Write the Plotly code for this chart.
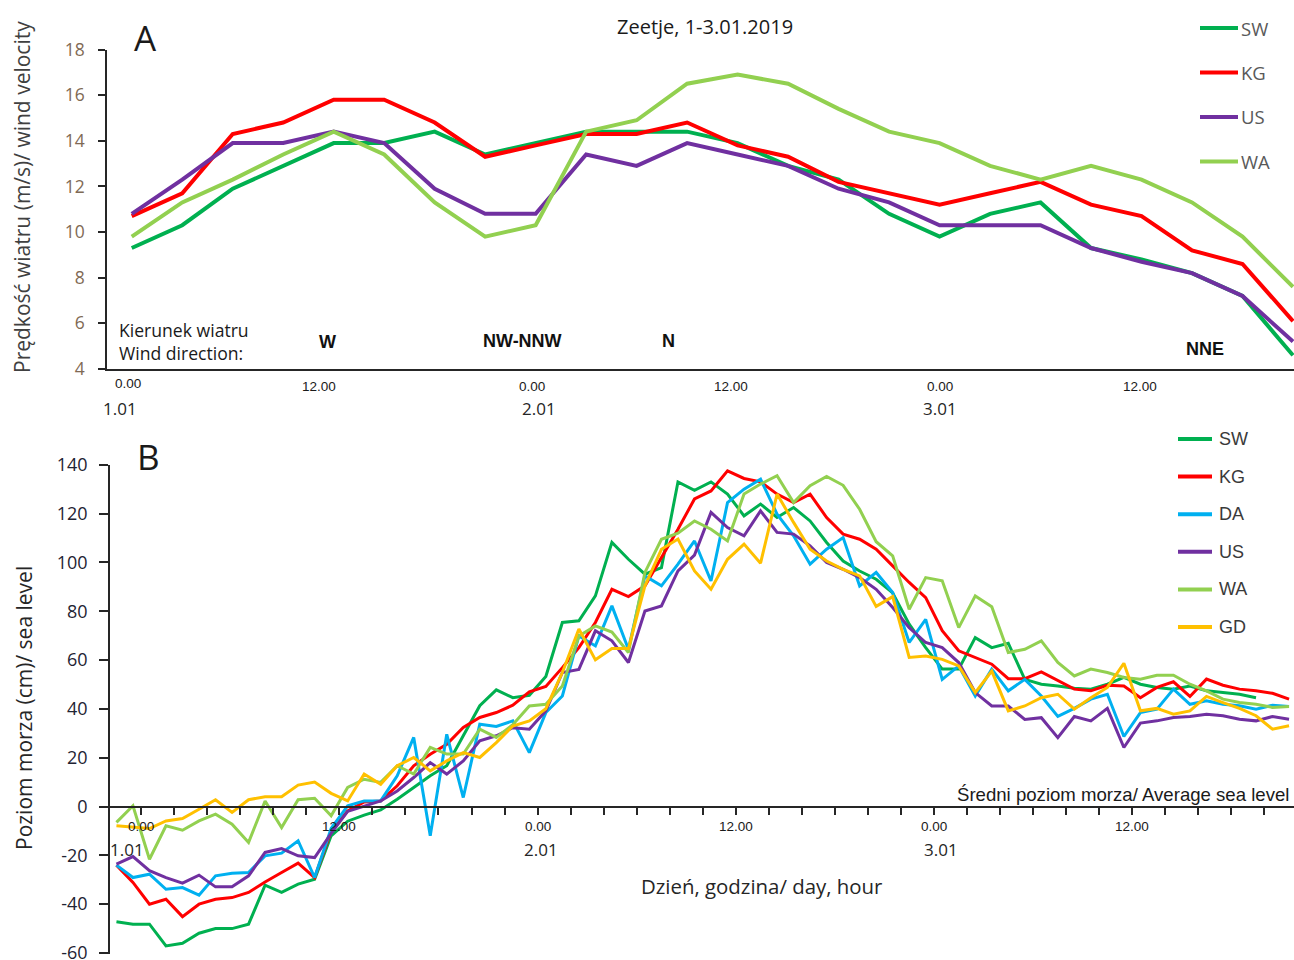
import plotly.graph_objects as go

W, H = 1294, 960

# ---------------- Panel A: wind speed (3-hourly) ----------------
hours_a = [0, 3, 6, 9, 12, 15, 18, 21, 24, 27, 30, 33, 36, 39, 42, 45, 48, 51, 54, 57, 60, 63, 66, 69]
wind_sw = [9.3, 10.3, 11.9, 12.9, 13.9, 13.9, 14.4, 13.4, 13.9, 14.4, 14.4, 14.4,
           13.9, 12.9, 12.3, 10.8, 9.8, 10.8, 11.3, 9.3, 8.8, 8.2, 7.2, 4.6]
wind_kg = [10.7, 11.7, 14.3, 14.8, 15.8, 15.8, 14.8, 13.3, 13.8, 14.3, 14.3, 14.8,
           13.8, 13.3, 12.2, 11.7, 11.2, 11.7, 12.2, 11.2, 10.7, 9.2, 8.6, 6.1]
wind_us = [10.8, 12.3, 13.9, 13.9, 14.4, 13.9, 11.9, 10.8, 10.8, 13.4, 12.9, 13.9,
           13.4, 12.9, 11.9, 11.3, 10.3, 10.3, 10.3, 9.3, 8.7, 8.2, 7.2, 5.2]
wind_wa = [9.8, 11.3, 12.3, 13.4, 14.4, 13.4, 11.3, 9.8, 10.3, 14.4, 14.9, 16.5,
           16.9, 16.5, 15.4, 14.4, 13.9, 12.9, 12.3, 12.9, 12.3, 11.3, 9.8, 7.6]
wind_ticks = [4, 6, 8, 10, 12, 14, 16, 18]

wind_directions = ["W", "NW-NNW", "N", "NNE"]

# ---------------- Panel B: sea level (hourly) ----------------
hour_index = list(range(72))
sea_sw = [-47.2, -48.2, -48.2, -57.1, -56.0, -51.9, -50.0, -50.0, -48.2, -32.2, -35.2, -31.8, -29.8,
          -12.0, -6.0, -3.5, -1.4, 3.0, 7.8, 12.6, 16.7, 29.0, 41.3, 47.8, 44.6,
          45.6, 53.3, 75.4, 76.1, 86.3, 108.2, 101.3, 95.2, 97.9, 133.0, 129.5,
          133.0, 128.0, 119.1, 123.9, 118.4, 122.5, 117.0, 108.2, 100.6, 96.5, 93.1, 87.5,
          74.7, 65.1, 56.3, 56.3, 69.2, 65.1, 66.9, 52.1, 50.1, 49.4, 48.5, 48.1,
          50.1, 52.9, 50.1, 48.8, 48.1, 49.4, 47.4, 46.7, 46.0, 44.6]
sea_kg = [-24.0, -31.1, -40.0, -38.0, -45.1, -40.0, -38.0, -37.3, -35.2, -30.9, -27.0, -23.2, -29.1,
          -10.0, -1.8, 1.9, 2.3, 8.5, 16.7, 21.4, 25.5, 32.4, 36.5, 38.5, 41.5,
          47.0, 49.2, 56.9, 65.1, 75.4, 89.0, 86.0, 90.4, 102.0, 113.6, 126.0,
          129.3, 137.5, 134.4, 133.0, 128.0, 124.5, 128.0, 118.4, 111.6, 109.5, 105.4, 98.6,
          91.8, 85.6, 72.0, 63.8, 61.1, 58.3, 52.4, 52.4, 55.2, 51.5, 48.1, 47.4,
          49.7, 49.4, 44.6, 48.8, 51.1, 45.1, 52.2, 49.7, 48.1, 47.4, 46.4, 44.0]
sea_da = [-24.0, -29.1, -27.7, -33.9, -33.2, -36.3, -28.4, -27.3, -27.0, -20.2, -19.1, -14.0, -29.1,
          -9.0, 0.3, 2.3, 2.3, 12.6, 28.3, -12.0, 29.6, 3.7, 33.7, 32.8, 35.1,
          22.1, 38.5, 45.3, 69.9, 65.8, 82.2, 64.4, 94.5, 90.4, 99.3, 108.8,
          92.4, 124.5, 130.0, 134.1, 119.8, 110.9, 99.3, 105.4, 110.2, 90.4, 95.9, 87.7,
          67.2, 76.7, 52.1, 57.6, 45.3, 56.3, 47.4, 52.1, 45.3, 36.9, 40.2, 44.0,
          46.0, 28.7, 38.5, 39.9, 48.1, 41.9, 43.3, 41.9, 41.3, 39.9, 41.5, 41.0]
sea_us = [-23.6, -20.5, -26.3, -29.1, -31.4, -28.1, -32.9, -32.9, -28.4, -18.8, -17.2, -20.2, -20.9,
          -11.0, -2.0, 0.3, 2.3, 6.4, 11.9, 18.0, 13.3, 18.7, 26.9, 29.0, 32.3,
          31.7, 39.2, 54.9, 56.2, 72.0, 67.9, 59.0, 80.1, 82.2, 96.5, 103.0,
          120.5, 114.3, 110.9, 121.1, 112.3, 111.6, 106.8, 100.0, 97.2, 93.8, 89.0, 81.5,
          73.3, 67.2, 65.1, 59.0, 46.7, 41.2, 41.2, 35.7, 36.4, 28.2, 36.9, 35.1,
          40.2, 24.2, 34.2, 35.1, 36.5, 36.9, 37.8, 37.2, 35.8, 35.1, 36.9, 35.8]
sea_wa = [-6.5, 0.3, -21.6, -7.9, -9.7, -5.9, -3.1, -7.2, -14.7, 2.3, -8.6, 2.8, 3.4,
          -3.8, 7.8, 11.2, 9.9, 16.7, 13.3, 24.2, 21.5, 21.5, 31.7, 28.3, 33.5,
          41.2, 41.9, 49.4, 69.9, 74.0, 71.5, 63.1, 95.9, 109.5, 112.0, 117.0,
          113.6, 108.8, 128.0, 132.1, 135.5, 124.5, 131.4, 135.2, 131.6, 121.8, 108.5, 102.7,
          80.8, 93.8, 92.5, 73.3, 86.3, 81.9, 63.1, 64.4, 67.9, 59.0, 53.5, 56.3,
          54.9, 52.9, 52.2, 53.8, 53.8, 50.1, 47.4, 44.0, 42.6, 41.9, 40.6, 41.0]
sea_gd = [-7.9, -8.5, -9.0, -5.9, -4.9, -1.1, 2.8, -2.4, 2.8, 4.0, 4.0, 8.8, 10.0,
          5.4, 2.3, 13.3, 9.1, 16.7, 20.1, 14.6, 18.7, 22.1, 20.1, 26.2, 33.0,
          35.1, 40.1, 54.9, 72.7, 60.1, 64.7, 64.7, 90.4, 105.4, 109.6, 96.5,
          89.0, 101.3, 107.5, 99.7, 128.0, 116.4, 105.4, 100.6, 97.2, 94.5, 82.0, 86.0,
          61.1, 61.7, 60.3, 57.6, 46.7, 55.5, 39.2, 41.2, 44.6, 46.0, 39.9, 44.6,
          48.8, 58.7, 39.2, 40.2, 37.8, 39.2, 45.1, 42.6, 40.2, 37.2, 31.7, 33.1]
sea_ticks = [-60, -40, -20, 0, 20, 40, 60, 80, 100, 120, 140]

time_labels = ["0.00", "12.00", "0.00", "12.00", "0.00", "12.00"]
day_labels = ["1.01", "2.01", "3.01"]

COLORS = {"SW": "#00B050", "KG": "#FF0000", "DA": "#00B0F0",
          "US": "#7030A0", "WA": "#92D050", "GD": "#FFC000"}

AXIS = "#262626"
CAL = "Open Sans"
ARIAL = "Liberation Sans"


def px(xp):
    return xp / W


def py(yp):
    return 1 - yp / H


fig = go.Figure()

wind_series = [("SW", wind_sw), ("KG", wind_kg), ("US", wind_us), ("WA", wind_wa)]
for name, vals in wind_series:
    fig.add_trace(go.Scatter(x=hours_a, y=vals, mode="lines", name=name,
                             line=dict(color=COLORS[name], width=4),
                             xaxis="x", yaxis="y", showlegend=False,
                             hoverinfo="skip"))

sea_series = [("SW", sea_sw), ("KG", sea_kg), ("DA", sea_da),
              ("US", sea_us), ("WA", sea_wa), ("GD", sea_gd)]
for name, vals in sea_series:
    fig.add_trace(go.Scatter(x=hour_index[:len(vals)], y=vals, mode="lines", name=name,
                             line=dict(color=COLORS[name], width=3),
                             xaxis="x2", yaxis="y2", showlegend=False,
                             hoverinfo="skip"))

annotations = []
shapes = []


def text(x, y, s, size, family=CAL, color="#1a1a1a", xanchor="center",
         yanchor="middle", xref="paper", yref="paper", angle=0):
    annotations.append(dict(x=x, y=y, text=s, showarrow=False, xref=xref, yref=yref,
                            xanchor=xanchor, yanchor=yanchor, textangle=angle,
                            font=dict(family=family, size=size, color=color)))


# ---- Panel A texts
text(px(145), py(38), "A", 35)
text(px(705), py(27), "Zeetje, 1-3.01.2019", 20)
text(px(22), py(197), "Prędkość wiatru (m/s)/ wind velocity", 21,
     color="#404040", angle=-90)
text(px(117), py(330), "Kierunek wiatru", 17.6, xanchor="left")
text(px(117), py(353), "Wind direction:", 17.6, xanchor="left")
for label, xp, yp in zip(wind_directions, [327, 522, 668, 1205], [342, 341, 341, 349]):
    text(px(xp), py(yp), "<b>" + label + "</b>", 18, family=ARIAL, color="#111111")

label_hours_a = [-0.25, 11.1, 23.8, 35.6, 48.0, 59.9]
label_y_a = [383, 387, 387, 387, 387, 387]
for lab, h, yp in zip(time_labels, label_hours_a, label_y_a):
    text(h, py(yp), lab, 13.5, family=ARIAL, xref="x")
for lab, h in zip(day_labels, [-0.7, 24.2, 48.0]):
    text(h, py(408), lab, 17, xref="x", color="#262626")

# legend A
for k, name in enumerate(["SW", "KG", "US", "WA"]):
    yp = 28 + 44.5 * k
    shapes.append(dict(type="line", xref="paper", yref="paper",
                       x0=px(1200), x1=px(1238), y0=py(yp), y1=py(yp),
                       line=dict(color=COLORS[name], width=4)))
    text(px(1239), py(yp), name, 18.5, color="#595959", xanchor="left")

# ---- Panel B texts
text(px(148), py(456), "B", 35)
text(px(24), py(708), "Poziom morza (cm)/ sea level", 21, color="#262626", angle=-90)
tick_pos_b = [1.5, 13.5, 25.5, 37.5, 49.5, 61.5]
for lab, j in zip(time_labels, tick_pos_b):
    text(j, py(826), lab, 13.5, family=ARIAL, xref="x2")
for lab, j in zip(day_labels, [0.65, 25.7, 49.9]):
    text(j, py(849), lab, 17, xref="x2", color="#262626")
text(px(762), py(886), "Dzień, godzina/ day, hour", 20.4, color="#262626")
text(px(955), py(794), "Średni poziom morza/ Average sea level", 18.6,
     family=ARIAL, color="#1a1a1a", xanchor="left")

# legend B
for k, name in enumerate(["SW", "KG", "DA", "US", "WA", "GD"]):
    yp = 439 + 37.6 * k
    shapes.append(dict(type="line", xref="paper", yref="paper",
                       x0=px(1178), x1=px(1212), y0=py(yp), y1=py(yp),
                       line=dict(color=COLORS[name], width=4)))
    text(px(1217), py(yp), name, 18, family=ARIAL, color="#3a3a3a", xanchor="left")

# sea-level axis extends a little below -60
sea_px_per_unit = (953 - 464.8) / 200
sea_bottom = -60.5
sea_domain_bottom_px = 953 + (-60 - sea_bottom) * sea_px_per_unit

fig.update_layout(
    width=W, height=H,
    margin=dict(l=0, r=0, t=0, b=0, pad=0, autoexpand=False),
    paper_bgcolor="white", plot_bgcolor="white",
    showlegend=False,
    xaxis=dict(domain=[px(107), 1], range=[-1.47, 69.06], anchor="y",
               showline=True, linecolor=AXIS, linewidth=1.5, automargin=False,
               ticks="", showticklabels=False, showgrid=False, zeroline=False),
    yaxis=dict(domain=[py(369), py(49.5)], range=[4, 18],
               tickvals=wind_ticks, ticktext=[str(v) for v in wind_ticks],
               anchor="x", showline=True, linecolor=AXIS, linewidth=1.5,
               ticks="outside", ticklen=7, tickwidth=1.5, tickcolor=AXIS,
               showgrid=False, zeroline=False, ticklabelstandoff=10, automargin=False,
               ticklabeloverflow="allow",
               tickfont=dict(family=CAL, size=17.5, color="#7F6A55")),
    xaxis2=dict(domain=[px(110), 1], range=[-0.39, 71.3], anchor="free",
                position=py(807.4), automargin=False,
                showline=True, linecolor=AXIS, linewidth=1.5,
                ticks="outside", ticklen=7, tickwidth=1.5, tickcolor=AXIS,
                tickvals=[1.5 + 2 * k for k in range(36)],
                showticklabels=False, showgrid=False, zeroline=False),
    yaxis2=dict(domain=[py(sea_domain_bottom_px), py(464.8)], range=[sea_bottom, 140],
                tickvals=sea_ticks, ticktext=[str(v) for v in sea_ticks],
                anchor="x2", showline=True, linecolor=AXIS, linewidth=1.5,
                ticks="outside", ticklen=9, tickwidth=1.5, tickcolor=AXIS,
                showgrid=False, zeroline=False, ticklabelstandoff=8, automargin=False,
                ticklabeloverflow="allow",
                tickfont=dict(family=CAL, size=18, color="#1F2433")),
    annotations=annotations,
    shapes=shapes,
)

fig.write_html("out.html")
